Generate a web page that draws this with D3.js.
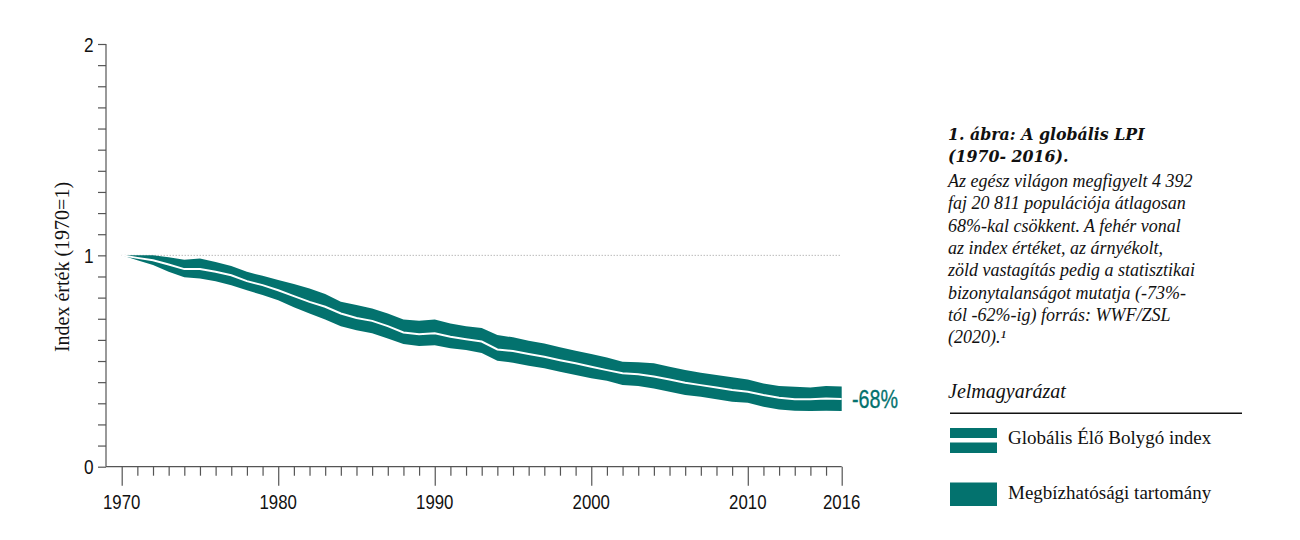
<!DOCTYPE html>
<html>
<head>
<meta charset="utf-8">
<script src="https://cdn.jsdelivr.net/npm/d3@7"></script>
<style>
  html, body { margin: 0; padding: 0; background: #fff; }
  svg { display: block; }
</style>
</head>
<body>
<svg id="chart" width="1300" height="540"></svg>
<script>
// ---- data ----
const years = d3.range(1970, 2017);
const indexValues = [1.0, 0.988, 0.977, 0.957, 0.935, 0.935, 0.922, 0.906, 0.878, 0.859,
  0.835, 0.807, 0.780, 0.757, 0.725, 0.704, 0.690, 0.665, 0.635, 0.627,
  0.631, 0.615, 0.603, 0.592, 0.555, 0.547, 0.533, 0.520, 0.504, 0.489,
  0.473, 0.457, 0.442, 0.437, 0.427, 0.413, 0.397, 0.386, 0.375, 0.363,
  0.355, 0.339, 0.326, 0.319, 0.319, 0.323, 0.320];
const upperValues = [1.0, 1.0, 1.0, 0.991, 0.979, 0.985, 0.969, 0.950, 0.922, 0.903,
  0.883, 0.864, 0.843, 0.817, 0.780, 0.765, 0.749, 0.725, 0.697, 0.690,
  0.697, 0.678, 0.665, 0.656, 0.623, 0.612, 0.596, 0.583, 0.565, 0.549,
  0.533, 0.517, 0.496, 0.494, 0.489, 0.473, 0.457, 0.444, 0.434, 0.423,
  0.413, 0.394, 0.382, 0.378, 0.375, 0.382, 0.380];
const lowerValues = [1.0, 0.977, 0.954, 0.922, 0.896, 0.891, 0.878, 0.859, 0.835, 0.812,
  0.788, 0.755, 0.725, 0.697, 0.665, 0.646, 0.631, 0.607, 0.580, 0.571,
  0.575, 0.560, 0.552, 0.538, 0.501, 0.492, 0.478, 0.466, 0.449, 0.434,
  0.418, 0.407, 0.386, 0.382, 0.370, 0.355, 0.339, 0.331, 0.319, 0.307,
  0.303, 0.284, 0.271, 0.265, 0.263, 0.265, 0.263];
const xTickLabels = [1970, 1980, 1990, 2000, 2010, 2016];
const yTickLabels = [0, 1, 2];
const endLabel = "-68%";
const yAxisTitle = "Index érték (1970=1)";
const captionTitle = ["1. ábra: A globális LPI", "(1970- 2016)."];
const captionBody = [
  "Az egész világon megfigyelt 4 392",
  "faj 20 811 populációja átlagosan",
  "68%-kal csökkent. A fehér vonal",
  "az index értéket, az árnyékolt,",
  "zöld vastagítás pedig a statisztikai",
  "bizonytalanságot mutatja (-73%-",
  "tól -62%-ig) forrás: WWF/ZSL",
  "(2020).\u00B9"
];
const legendTitle = "Jelmagyarázat";
const legendItems = ["Globális Élő Bolygó index", "Megbízhatósági tartomány"];

// ---- layout ----
const TEAL = "#03726e";
const sans = "'Liberation Sans', Arial, sans-serif";
const serif = "'Liberation Serif', 'DejaVu Serif', serif";
const titleSerif = "'DejaVu Serif', 'Liberation Serif', serif";
const NARROW = 0.82;

const svg = d3.select("#chart");
const x = d3.scaleLinear().domain([1970, 2016]).range([121.7, 841.7]);
const y = d3.scaleLinear().domain([0, 2]).range([466.7, 44]);
const axisX0 = 106;

const data = years.map((yr, i) => ({ yr, v: indexValues[i], hi: upperValues[i], lo: lowerValues[i] }));

// y axis
const yAxis = d3.axisLeft(y).tickValues(d3.range(0, 2.0001, 0.1)).tickSize(8).tickFormat("");
const gy = svg.append("g").attr("transform", `translate(${axisX0},0)`).call(yAxis);
gy.select(".domain").attr("stroke", "#555").attr("stroke-width", 1.2).attr("d", `M0,${y(2)}V${y(0)}`);
gy.selectAll(".tick line").attr("stroke", "#555").attr("stroke-width", 1.2);

svg.append("g").selectAll("text").data(yTickLabels).join("text")
  .attr("transform", d => `translate(93.5,${y(d)}) scale(${NARROW},1)`)
  .attr("dy", "0.36em")
  .attr("text-anchor", "end")
  .attr("font-family", sans).attr("font-size", 21).attr("fill", "#111")
  .text(d => d);

// x axis
const gx = svg.append("g").attr("transform", `translate(0,${y(0)})`);
gx.append("path").attr("d", `M${axisX0},0H${x(2016)}`).attr("stroke", "#555").attr("stroke-width", 1.2).attr("fill", "none");
const xAxis = d3.axisBottom(x).tickValues(years).tickFormat("").tickSize(9);
gx.call(xAxis);
gx.select(".domain").remove();
gx.selectAll(".tick line").attr("stroke", "#555").attr("stroke-width", 1.2)
  .attr("y2", d => xTickLabels.includes(d) ? 19 : 9);

svg.append("g").selectAll("text").data(xTickLabels).join("text")
  .attr("transform", d => `translate(${x(d)},508.5) scale(${NARROW},1)`)
  .attr("text-anchor", "middle")
  .attr("font-family", sans).attr("font-size", 20.5).attr("fill", "#111")
  .text(d => d);

// y axis title
svg.append("text")
  .attr("transform", `translate(69,267) rotate(-90)`)
  .attr("text-anchor", "middle")
  .attr("font-family", serif).attr("font-size", 20).attr("fill", "#111")
  .text(yAxisTitle);

// dotted reference line at 1
svg.append("line")
  .attr("x1", x(1970)).attr("x2", x(2016)).attr("y1", y(1)).attr("y2", y(1))
  .attr("stroke", "#999").attr("stroke-width", 1).attr("stroke-dasharray", "1,2");

// band
const area = d3.area().x(d => x(d.yr)).y0(d => y(d.lo)).y1(d => y(d.hi));
svg.append("path").datum(data).attr("d", area).attr("fill", TEAL);

// index line
const line = d3.line().x(d => x(d.yr)).y(d => y(d.v));
svg.append("path").datum(data).attr("d", line)
  .attr("fill", "none").attr("stroke", "#fff").attr("stroke-width", 2);

// end label
svg.append("text")
  .attr("transform", `translate(852,${y(indexValues[indexValues.length - 1])}) scale(0.76,1)`)
  .attr("dy", "0.36em")
  .attr("font-family", sans).attr("font-size", 26).attr("fill", TEAL)
  .attr("stroke", TEAL).attr("stroke-width", 0.3)
  .text(endLabel);

// caption
const cap = svg.append("g").attr("transform", "translate(948,0)");
captionTitle.forEach((t, i) => {
  cap.append("text").attr("x", 0).attr("y", 140 + i * 22)
    .attr("font-family", titleSerif).attr("font-size", 15.8).attr("font-weight", "bold").attr("font-style", "italic")
    .attr("fill", "#111").text(t);
});
captionBody.forEach((t, i) => {
  cap.append("text").attr("x", 0).attr("y", 187 + i * 22.3)
    .attr("font-family", serif).attr("font-size", 18).attr("font-style", "italic")
    .attr("fill", "#111").text(t);
});

// legend
cap.append("text").attr("x", 0).attr("y", 398)
  .attr("font-family", serif).attr("font-size", 20).attr("font-style", "italic")
  .attr("fill", "#111").text(legendTitle);
cap.append("line").attr("x1", 2).attr("x2", 294).attr("y1", 413.3).attr("y2", 413.3)
  .attr("stroke", "#111").attr("stroke-width", 1.5);

const lg = cap.append("g");
lg.append("rect").attr("x", 2).attr("y", 428).attr("width", 47).attr("height", 10).attr("fill", TEAL);
lg.append("rect").attr("x", 2).attr("y", 442.5).attr("width", 47).attr("height", 10.5).attr("fill", TEAL);
lg.append("rect").attr("x", 2).attr("y", 482.5).attr("width", 47).attr("height", 23.5).attr("fill", TEAL);
legendItems.forEach((t, i) => {
  lg.append("text").attr("x", 60).attr("y", 444 + i * 55)
    .attr("font-family", serif).attr("font-size", 19).attr("fill", "#111").text(t);
});
</script>
</body>
</html>
